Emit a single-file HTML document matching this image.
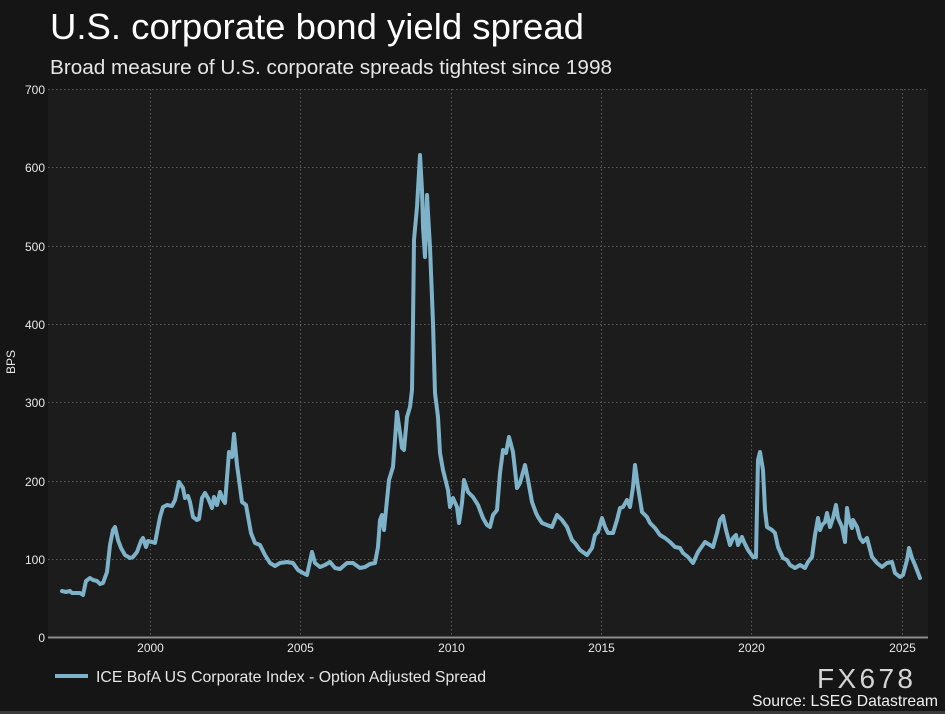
<!DOCTYPE html>
<html>
<head>
<meta charset="utf-8">
<style>
  html,body{margin:0;padding:0;background:#151515;}
  svg{display:block;}
  text{font-family:"Liberation Sans",Arial,sans-serif;}
</style>
</head>
<body>
<svg width="945" height="714" viewBox="0 0 945 714" xmlns="http://www.w3.org/2000/svg">
  <rect x="0" y="0" width="945" height="714" fill="#151515"/>
  <rect x="48" y="89" width="880" height="548" fill="#1c1c1c"/>
  <rect x="0" y="711" width="945" height="3" fill="#3a3a3a"/>

  <!-- Title -->
  <text x="50" y="39" font-size="36" fill="#ffffff" textLength="534" lengthAdjust="spacingAndGlyphs">U.S. corporate bond yield spread</text>
  <text x="50" y="74" font-size="20" fill="#e6e6e6" textLength="562" lengthAdjust="spacingAndGlyphs">Broad measure of U.S. corporate spreads tightest since 1998</text>

  <!-- Grid -->
  <g stroke="#5c5c5c" stroke-width="1" stroke-dasharray="1.5 2.5" fill="none">
    <line x1="48" y1="89.5" x2="928" y2="89.5"/>
    <line x1="48" y1="167.5" x2="928" y2="167.5"/>
    <line x1="48" y1="246.5" x2="928" y2="246.5"/>
    <line x1="48" y1="324.5" x2="928" y2="324.5"/>
    <line x1="48" y1="402.5" x2="928" y2="402.5"/>
    <line x1="48" y1="481.5" x2="928" y2="481.5"/>
    <line x1="48" y1="559.5" x2="928" y2="559.5"/>
    <line x1="150.5" y1="89" x2="150.5" y2="637"/>
    <line x1="300.5" y1="89" x2="300.5" y2="637"/>
    <line x1="451.5" y1="89" x2="451.5" y2="637"/>
    <line x1="601.5" y1="89" x2="601.5" y2="637"/>
    <line x1="751.5" y1="89" x2="751.5" y2="637"/>
    <line x1="902.5" y1="89" x2="902.5" y2="637"/>
  </g>
  <line x1="48" y1="637.5" x2="928" y2="637.5" stroke="#8c8c8c" stroke-width="2"/>

  <!-- Y labels -->
  <g font-size="12" fill="#e8e8e8" text-anchor="end">
    <text x="45" y="94">700</text>
    <text x="45" y="172">600</text>
    <text x="45" y="251">500</text>
    <text x="45" y="329">400</text>
    <text x="45" y="407">300</text>
    <text x="45" y="486">200</text>
    <text x="45" y="564">100</text>
    <text x="45" y="642">0</text>
  </g>
  <text x="0" y="0" font-size="12" fill="#e8e8e8" text-anchor="middle" transform="translate(15,362) rotate(-90)">BPS</text>

  <!-- X labels -->
  <g font-size="12" fill="#e8e8e8" text-anchor="middle">
    <text x="150.5" y="652">2000</text>
    <text x="300.5" y="652">2005</text>
    <text x="451.5" y="652">2010</text>
    <text x="601.5" y="652">2015</text>
    <text x="751.5" y="652">2020</text>
    <text x="902.5" y="652">2025</text>
  </g>

  <!-- Series -->
  <polyline fill="none" stroke="#7db2c8" stroke-width="4" stroke-linejoin="round" stroke-linecap="round"
    points="62,591 66,592 70,591 72,593 76,593 80,593 83,595 86,581 90,578 93,580 97,581 100,584 103,583 107,572 110,545 113,530 115,527 118,540 121,548 125,555 130,558 133,557 137,552 141,541 143,538 146,547 148,541 152,542 155,543 160,517 163,507 167,505 172,506 175,500 179,482 183,488 185,498 188,496 190,502 193,517 197,520 199,519 202,498 205,493 208,498 212,508 214,497 217,505 220,492 223,500 225,503 227,478 229,452 232,457 234,434 237,465 240,487 242,502 246,505 251,533 255,543 260,545 265,555 270,563 275,566 280,563 287,562 293,563 298,570 303,573 307,575 312,552 315,563 320,567 325,565 330,562 335,568 340,569 347,563 353,563 360,568 365,567 370,564 375,563 378,547 380,520 382,515 384,530 387,500 389,480 393,467 397,412 400,433 402,448 404,450 407,417 410,407 412,390 413,323 414,240 417,207 420,155 422,190 423,227 425,257 427,195 428,213 430,247 433,323 435,393 438,417 440,453 443,470 448,490 450,507 453,498 457,507 459,523 462,503 464,480 468,492 473,497 478,505 483,518 487,525 490,527 493,515 497,510 500,473 503,450 506,453 509,437 513,452 517,488 520,483 525,465 528,480 532,502 536,513 538,517 542,523 547,525 552,527 557,515 562,520 567,527 572,540 575,543 580,550 587,555 592,548 595,535 598,532 602,518 605,527 608,533 613,533 617,520 620,508 623,507 627,500 630,507 633,487 635,465 638,487 642,512 647,517 650,523 655,528 660,535 665,538 670,542 675,547 680,548 683,553 688,557 693,563 698,552 705,542 710,545 713,547 717,533 720,520 723,516 726,530 730,545 733,538 736,535 738,545 742,537 744,542 748,550 753,557 756,557 758,460 760,452 763,470 765,510 767,527 772,530 775,533 778,547 783,558 787,560 790,565 795,568 800,565 805,568 808,562 812,557 815,535 818,518 820,530 822,525 825,522 827,513 830,527 833,518 836,505 838,518 842,527 845,542 847,508 849,520 852,528 853,520 857,527 860,538 863,542 867,538 872,557 877,563 882,567 887,563 892,562 895,573 900,577 903,575 907,560 909,548 912,558 915,565 920,578"/>

  <!-- Legend -->
  <line x1="55" y1="676" x2="88" y2="676" stroke="#7db2c8" stroke-width="4"/>
  <text x="96" y="682" font-size="16" fill="#e6e6e6" textLength="390" lengthAdjust="spacingAndGlyphs">ICE BofA US Corporate Index - Option Adjusted Spread</text>

  <!-- Watermark / source -->
  <text x="817" y="688" font-size="28" fill="#d4d4d4" textLength="96" lengthAdjust="spacing">FX678</text>
  <text x="752" y="706" font-size="16" fill="#f0f0f0" textLength="186" lengthAdjust="spacingAndGlyphs">Source: LSEG Datastream</text>
</svg>
</body>
</html>
